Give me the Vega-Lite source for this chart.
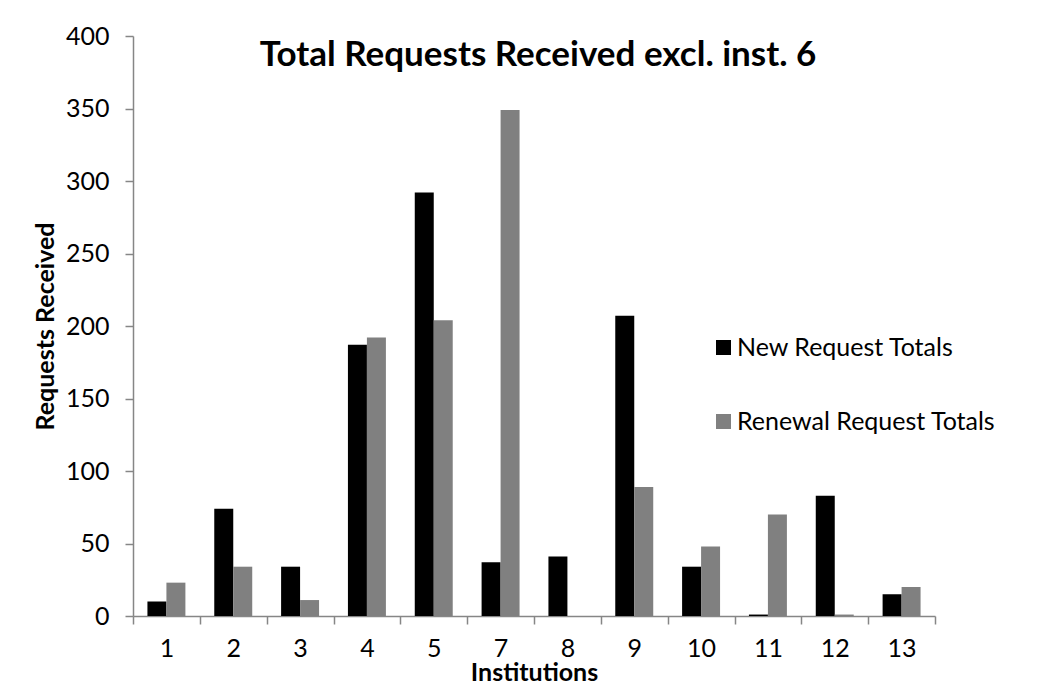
{
  "$schema": "https://vega.github.io/schema/vega-lite/v6.json",
  "width": 802,
  "height": 580,
  "autosize": {"type": "none"},
  "padding": {"left": 133, "top": 36, "right": 109, "bottom": 70},
  "background": "white",
  "datasets": {
    "requests": [
      {"inst": "1", "type": "New Request Totals", "value": 10},
      {"inst": "1", "type": "Renewal Request Totals", "value": 23},
      {"inst": "2", "type": "New Request Totals", "value": 74},
      {"inst": "2", "type": "Renewal Request Totals", "value": 34},
      {"inst": "3", "type": "New Request Totals", "value": 34},
      {"inst": "3", "type": "Renewal Request Totals", "value": 11},
      {"inst": "4", "type": "New Request Totals", "value": 187},
      {"inst": "4", "type": "Renewal Request Totals", "value": 192},
      {"inst": "5", "type": "New Request Totals", "value": 292},
      {"inst": "5", "type": "Renewal Request Totals", "value": 204},
      {"inst": "7", "type": "New Request Totals", "value": 37},
      {"inst": "7", "type": "Renewal Request Totals", "value": 349},
      {"inst": "8", "type": "New Request Totals", "value": 41},
      {"inst": "8", "type": "Renewal Request Totals", "value": 0},
      {"inst": "9", "type": "New Request Totals", "value": 207},
      {"inst": "9", "type": "Renewal Request Totals", "value": 89},
      {"inst": "10", "type": "New Request Totals", "value": 34},
      {"inst": "10", "type": "Renewal Request Totals", "value": 48},
      {"inst": "11", "type": "New Request Totals", "value": 1},
      {"inst": "11", "type": "Renewal Request Totals", "value": 70},
      {"inst": "12", "type": "New Request Totals", "value": 83},
      {"inst": "12", "type": "Renewal Request Totals", "value": 1},
      {"inst": "13", "type": "New Request Totals", "value": 15},
      {"inst": "13", "type": "Renewal Request Totals", "value": 20}
    ],
    "titles": [
      {"label": "Total Requests Received excl. inst. 6", "inst": "8", "value": 379}
    ]
  },
  "layer": [
    {
      "data": {"name": "requests"},
      "mark": {"type": "bar"},
      "encoding": {
        "x": {
          "field": "inst",
          "type": "ordinal",
          "sort": ["1", "2", "3", "4", "5", "7", "8", "9", "10", "11", "12", "13"],
          "scale": {
            "domain": ["1", "2", "3", "4", "5", "7", "8", "9", "10", "11", "12", "13"],
            "paddingInner": 0,
            "paddingOuter": 0
          },
          "axis": {
            "title": "Institutions",
            "titleFont": "Lato",
            "titleFontSize": 25,
            "titleFontWeight": "bold",
            "titleColor": "#000000",
            "titleBaseline": "alphabetic",
            "titleAlign": "center",
            "titleX": 401,
            "titleY": 64,
            "labelAngle": 0,
            "labelFont": "Lato",
            "labelFontSize": 25,
            "labelColor": "#000000",
            "labelPadding": 12,
            "tickBand": "extent",
            "tickSize": 8,
            "tickColor": "#868686",
            "tickWidth": 1.5,
            "domainColor": "#868686",
            "domainWidth": 1.5,
            "grid": false
          }
        },
        "xOffset": {
          "field": "type",
          "type": "nominal",
          "scale": {"paddingInner": 0, "paddingOuter": 0.76}
        },
        "y": {
          "field": "value",
          "type": "quantitative",
          "scale": {"domain": [0, 400], "nice": false},
          "axis": {
            "title": "Requests Received",
            "titleFont": "Lato",
            "titleFontSize": 25,
            "titleFontWeight": "bold",
            "titleColor": "#000000",
            "titleBaseline": "alphabetic",
            "titleAlign": "center",
            "titleAngle": -90,
            "titleX": -80,
            "titleY": 290,
            "values": [0, 50, 100, 150, 200, 250, 300, 350, 400],
            "labelFont": "Lato",
            "labelFontSize": 25,
            "labelColor": "#000000",
            "labelPadding": 16,
            "tickSize": 8,
            "tickColor": "#868686",
            "tickWidth": 1.5,
            "domainColor": "#868686",
            "domainWidth": 1.5,
            "grid": false
          }
        },
        "color": {
          "field": "type",
          "type": "nominal",
          "scale": {
            "domain": ["New Request Totals", "Renewal Request Totals"],
            "range": ["#000000", "#808080"]
          },
          "legend": {
            "title": null,
            "orient": "none",
            "legendX": 578,
            "legendY": 299,
            "symbolType": "square",
            "symbolSize": 225,
            "symbolStrokeWidth": 0,
            "labelFont": "Lato",
            "labelFontSize": 25,
            "labelColor": "#000000",
            "labelOffset": 1,
            "labelLimit": 0,
            "rowPadding": 48
          }
        }
      }
    },
    {
      "data": {"name": "titles"},
      "mark": {
        "type": "text",
        "font": "Lato",
        "fontSize": 35,
        "fontWeight": "bold",
        "color": "#000000",
        "align": "center",
        "baseline": "alphabetic",
        "dx": 4
      },
      "encoding": {
        "x": {
          "field": "inst",
          "type": "ordinal",
          "sort": ["1", "2", "3", "4", "5", "7", "8", "9", "10", "11", "12", "13"],
          "bandPosition": 0
        },
        "y": {"field": "value", "type": "quantitative"},
        "text": {"field": "label"}
      }
    }
  ],
  "config": {
    "view": {"stroke": null}
  }
}
